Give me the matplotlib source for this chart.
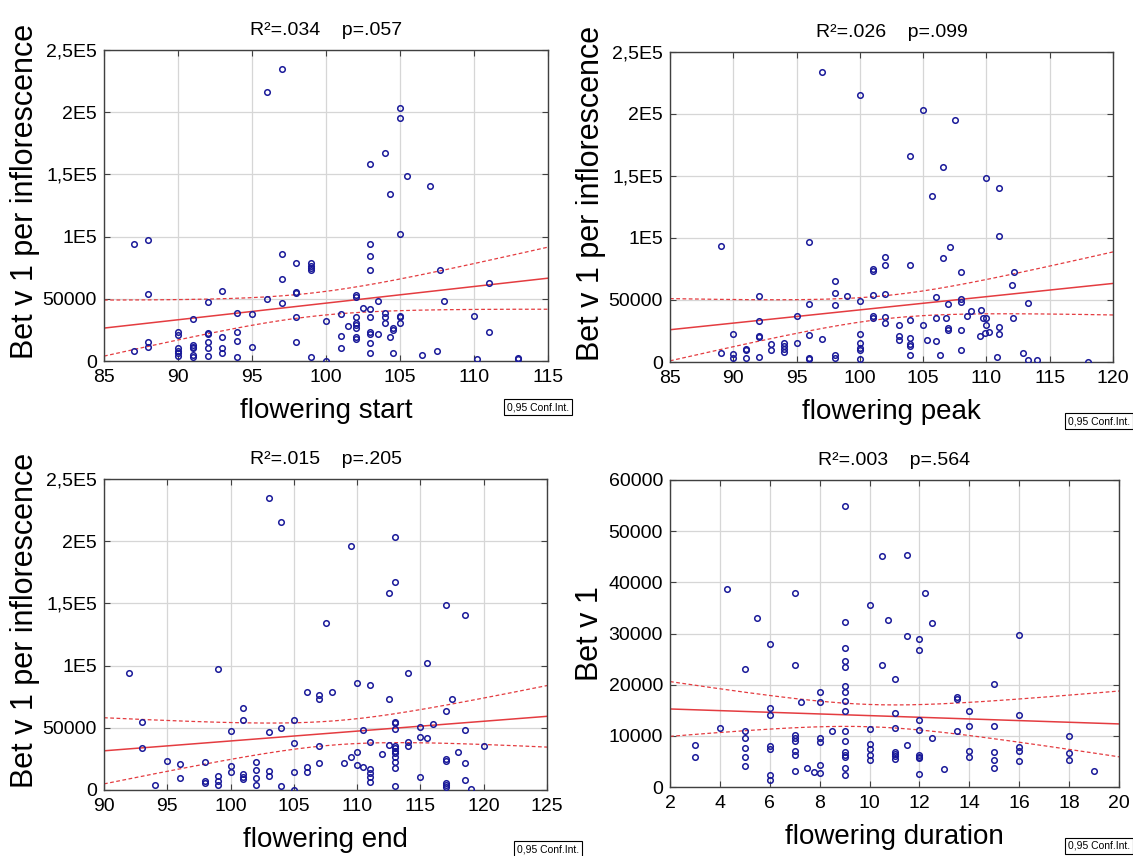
import numpy as np
import matplotlib
matplotlib.use("Agg")
from matplotlib import pyplot as plt
from matplotlib.ticker import FixedLocator, FixedFormatter

plt.rcParams["font.family"] = ["Liberation Sans", "DejaVu Sans"]

# flowering start (day) vs Bet v 1 per inflorescence
start_x = [96, 97, 87, 88, 88, 87, 88, 88,
           90, 90, 90, 90, 90, 90,
           91, 91, 91, 91, 91, 91,
           92, 92, 92, 92, 92, 92,
           93, 93, 93, 93,
           94, 94, 94, 94,
           95, 95, 96, 97, 97, 97,
           98, 98, 98, 98, 98,
           99, 99, 99, 99, 99,
           100, 100, 101, 101, 101, 101.5,
           102, 102, 102, 102, 102, 102, 102, 102, 102.5,
           103, 103, 103, 103, 103, 103, 103, 103, 103, 103,
           103.5, 103.5, 104, 104, 104, 104, 104.3, 104.3,
           104.5, 104.5, 104.5,
           105, 105, 105, 105, 105, 105,
           105.5, 106.5, 107, 107.5, 107.7, 108,
           110, 110.2, 111, 111, 113, 113]
start_y = [216000, 235000, 94000, 97000, 54000, 8000, 15500, 11500,
           23500, 20900, 10200, 8000, 6100, 4000,
           33700, 12800, 11500, 10200, 4800, 3500,
           47600, 22200, 21400, 15000, 10200, 4000,
           56400, 19500, 10700, 6100,
           38200, 23000, 16300, 3200,
           37400, 11500, 50000, 85800, 66000, 46300,
           79100, 55600, 54300, 35600, 15000,
           79100, 76700, 74900, 73300, 3200,
           32400, 0, 37400, 20100, 10700, 28100,
           52900, 51600, 35600, 30800, 28900, 26700, 19000, 17900, 42800,
           158000, 93900, 84200, 73500, 42000, 35600, 23500, 21700, 14200, 6200,
           48100, 21700, 166900, 38200, 35000, 30200, 134200, 19000,
           26700, 24900, 6200,
           203200, 195700, 101900, 36400, 35000, 30200,
           148400, 4800, 140700, 8300, 73300, 48400,
           36100, 1900, 63100, 23000, 2700, 1300]

# flowering peak
peak_x = [97, 100, 89, 89,
          90, 90, 90, 91, 91, 91,
          92, 92, 92, 92, 92, 93, 93,
          94, 94, 94, 94, 95, 95,
          96, 96, 96, 96, 96, 97,
          98, 98, 98, 98, 98, 99,
          100, 100, 100, 100, 100, 100,
          105, 107.5, 104, 106.6, 110, 111, 105.7, 111, 107.1, 106.6,
          102, 102, 104, 101, 101, 108, 112.2, 112,
          101, 102, 106, 108, 108, 107, 113.3, 109.6, 108.8, 108.5,
          101, 101, 102, 102, 104, 106, 106.8, 109.7, 110, 112.1,
          103.1, 105, 110, 107, 107, 108, 111, 111, 110.2, 109.9, 109.5,
          103.1, 103.1, 104, 104, 104, 104, 105.3, 106, 106.3, 108,
          110.8, 112.9, 113.3, 114, 118]
peak_y = [234200, 215500, 93800, 7500,
          22800, 6200, 3500, 10700, 9600, 2900,
          53600, 33000, 20900, 19800, 4000, 14200, 9400,
          15000, 12900, 10200, 8300, 37500, 15500,
          96700, 46900, 21400, 2900, 2100, 18800,
          65400, 55700, 45600, 5600, 3500, 53600,
          49000, 22200, 15500, 11000, 9400, 2100,
          202900, 195400, 166400, 157600, 148200, 140200, 133500, 101300, 93000, 83600,
          85000, 78500, 78500, 75000, 73200, 72600, 72600, 62400,
          54400, 54900, 52300, 50900, 48500, 46900, 47700, 42100, 41500, 37500,
          37000, 35100, 36400, 31600, 34000, 35100, 35600, 35100, 35600, 35100,
          29500, 29500, 29500, 27100, 25700, 25700, 28100, 22200, 24400, 23000, 20900,
          20900, 18000, 19600, 14200, 12900, 5600, 18000, 17200, 5600, 9600,
          4000, 7500, 1300, 1900, 0]

# flowering end
end_x = [103, 104, 92, 99, 93, 93, 94, 95, 96, 96,
         98, 98, 98, 99, 99, 99, 100, 100, 100,
         101, 101, 101, 101, 101, 102, 102, 102, 102,
         103, 103, 103, 104, 104, 105, 105, 105, 105,
         106, 106, 106, 107, 107, 107, 107, 108, 109, 109.5, 109.5, 107.5,
         110, 110, 110, 110.5, 110.5,
         111, 111, 111, 111, 111, 111,
         112, 112.5, 112.5, 112.5,
         113, 113, 113, 113, 113, 113, 113, 113, 113, 113, 113, 113, 113,
         114, 114, 114, 115, 115, 115, 115.5, 115.5, 116,
         117, 117, 117, 117, 117, 117, 117, 117.5, 118,
         118.5, 118.5, 118.5, 118.5, 119, 120]
end_y = [234500, 215800, 94400, 97100, 54300, 34000, 4000, 23500, 20600, 9900,
         22200, 7200, 5300, 11500, 7200, 4000, 47600, 19500, 14700,
         66000, 56400, 12600, 10700, 8800, 22700, 16000, 9900, 4000,
         46300, 15500, 11500, 50000, 3200, 55900, 37400, 14700, 0,
         79100, 18700, 14700, 76200, 73500, 35300, 21400, 79100, 21400, 26700, 196000, 134000,
         85800, 30200, 20100, 47900, 18700,
         84200, 38200, 16800, 13900, 10700, 6200,
         28900, 158000, 73300, 36100,
         203200, 166900, 54800, 54000, 48700, 35600, 33400, 31600, 29400, 26700, 22700, 17900, 3200,
         94100, 38200, 35600, 50800, 42800, 10700, 102100, 42200, 52700,
         148700, 63400, 24600, 23500, 5300, 4000, 2100, 73300, 30200,
         140400, 48400, 21400, 8000, 500, 35600]

# flowering duration (days) vs Bet v 1
dur_x = [9, 4.27, 7, 5.5, 9, 6, 9, 9, 9, 5, 7, 9, 9, 8, 9, 8, 7.27, 6, 6, 9, 4,
         5, 5, 5, 5, 5, 3, 3, 6, 6, 6, 6,
         7, 7, 7, 7, 7, 7, 7.5, 7.76, 8, 8, 8, 8, 8.5,
         9, 9, 9, 9, 9, 9, 9,
         10.5, 11.5, 10, 12.24, 10.75, 12.5, 11.5, 12, 12, 16, 10.5, 11, 15, 13.5, 13.5, 14, 11, 16, 12,
         10, 11, 12, 13.5, 14, 15, 12.5, 11.5, 18,
         10, 10, 10, 10, 11, 11, 11, 11, 12, 12, 12, 12, 13, 14, 14, 15, 15, 15, 16, 16, 16, 18, 18, 19]
dur_y = [54900, 38700, 38000, 33100, 32300, 27900, 27200, 24700, 23400, 23100, 23900, 19700, 18500, 18500,
         16800, 16600, 16600, 15500, 14000, 14800, 11500,
         10900, 9500, 7600, 5900, 4200, 8300, 5900, 8100, 7400, 2300, 1400,
         10200, 9600, 8900, 7000, 6300, 3200, 3700, 3000, 9500, 8700, 4300, 2700, 11000,
         10900, 8900, 6800, 6300, 5900, 3800, 2300,
         45100, 45300, 35500, 37900, 32700, 32000, 29500, 28900, 26700, 29700, 23900, 21100, 20100,
         17500, 17200, 14800, 14500, 14000, 13000,
         11300, 11500, 11100, 11000, 11900, 11900, 9500, 8300, 10000,
         8400, 7400, 6300, 5300, 6900, 6500, 6000, 5500, 6300, 5900, 5600, 2500, 3600,
         7100, 5900, 6900, 5300, 3800, 7900, 7000, 5000, 6700, 5200, 3100]

titles = ["R²=.034    p=.057", "R²=.026    p=.099", "R²=.015    p=.205", "R²=.003    p=.564"]
xlabels = ["flowering start", "flowering peak", "flowering end", "flowering duration"]
ylabels = ["Bet v 1 per inflorescence"] * 3 + ["Bet v 1"]
xlims = [(85, 115), (85, 120), (90, 125), (2, 20)]
xticks = [np.arange(85, 116, 5), np.arange(85, 121, 5), np.arange(90, 126, 5), np.arange(2, 21, 2)]
big_ticks = [0, 50000, 100000, 150000, 200000, 250000]
big_labels = ["0", "50000", "1E5", "1,5E5", "2E5", "2,5E5"]
dur_ticks = [0, 10000, 20000, 30000, 40000, 50000, 60000]
dur_labels = ["0", "10000", "20000", "30000", "40000", "50000", "60000"]

data = [(start_x, start_y), (peak_x, peak_y), (end_x, end_y), (dur_x, dur_y)]

W, H = 1133, 856
# axes boxes in pixels: left, top, right, bottom
boxes = [(104, 50, 548, 361), (670, 52, 1113, 362), (104, 479, 547, 790), (670, 480, 1119, 787)]
conf_pos = [(507, 407), (1068, 421), (517, 849), (1068, 846)]
ylab_y = [0.545, 0.545, 0.545, 0.5]

fig = plt.figure(figsize=(W / 100, H / 100), dpi=100)

blue = "#1a1a99"
red = "#e43c40"

for i in range(4):
    l, t, r, b = boxes[i]
    ax = fig.add_axes([l / W, 1 - b / H, (r - l) / W, (b - t) / H])
    x = np.array(data[i][0], dtype=float)
    y = np.array(data[i][1], dtype=float)

    # linear fit with 0.95 confidence band
    n = len(x)
    slope, icpt = np.polyfit(x, y, 1)
    resid = y - (icpt + slope * x)
    s = np.sqrt(np.sum(resid ** 2) / (n - 2))
    xm = x.mean()
    sxx = np.sum((x - xm) ** 2)
    xx = np.linspace(xlims[i][0], xlims[i][1], 200)
    yy = icpt + slope * xx
    half = 1.98 * s * np.sqrt(1 / n + (xx - xm) ** 2 / sxx)

    ax.grid(True, color="#d6d6d6", lw=0.9, zorder=0)
    ax.plot(xx, yy, color=red, lw=1.1, zorder=2)
    ax.plot(xx, yy + half, color=red, lw=0.9, ls=(0, (3, 2)), zorder=2)
    ax.plot(xx, yy - half, color=red, lw=0.9, ls=(0, (3, 2)), zorder=2)
    ax.plot(x, y, "o", ms=4, mfc="none", mec=blue, mew=1.1, zorder=3)

    ax.set_xlim(*xlims[i])
    ax.xaxis.set_major_locator(FixedLocator(xticks[i]))
    if i < 3:
        ax.set_ylim(0, 250000)
        ax.yaxis.set_major_locator(FixedLocator(big_ticks))
        ax.yaxis.set_major_formatter(FixedFormatter(big_labels))
    else:
        ax.set_ylim(0, 60000)
        ax.yaxis.set_major_locator(FixedLocator(dur_ticks))
        ax.yaxis.set_major_formatter(FixedFormatter(dur_labels))

    ax.tick_params(direction="in", length=4, width=0.8, color="#404040",
                   top=True, right=True, labelsize=14)
    ax.tick_params(axis="x", pad=6)
    ax.tick_params(axis="y", pad=5)
    for sp in ax.spines.values():
        sp.set_color("#404040")
        sp.set_linewidth(1.0)

    ax.set_title(titles[i], fontsize=14, pad=11)
    ax.set_xlabel(xlabels[i], fontsize=20)
    ax.set_ylabel(ylabels[i], fontsize=22)
    ax.xaxis.set_label_coords(0.5, -0.12)
    ax.yaxis.set_label_coords(-0.145, ylab_y[i])

    fig.text(conf_pos[i][0] / W, 1 - conf_pos[i][1] / H, "0,95 Conf.Int.", fontsize=7.5,
             ha="left", va="center",
             bbox=dict(boxstyle="square,pad=0.25", fc="white", ec="black", lw=0.8))

fig.savefig("out.png", dpi=100)
